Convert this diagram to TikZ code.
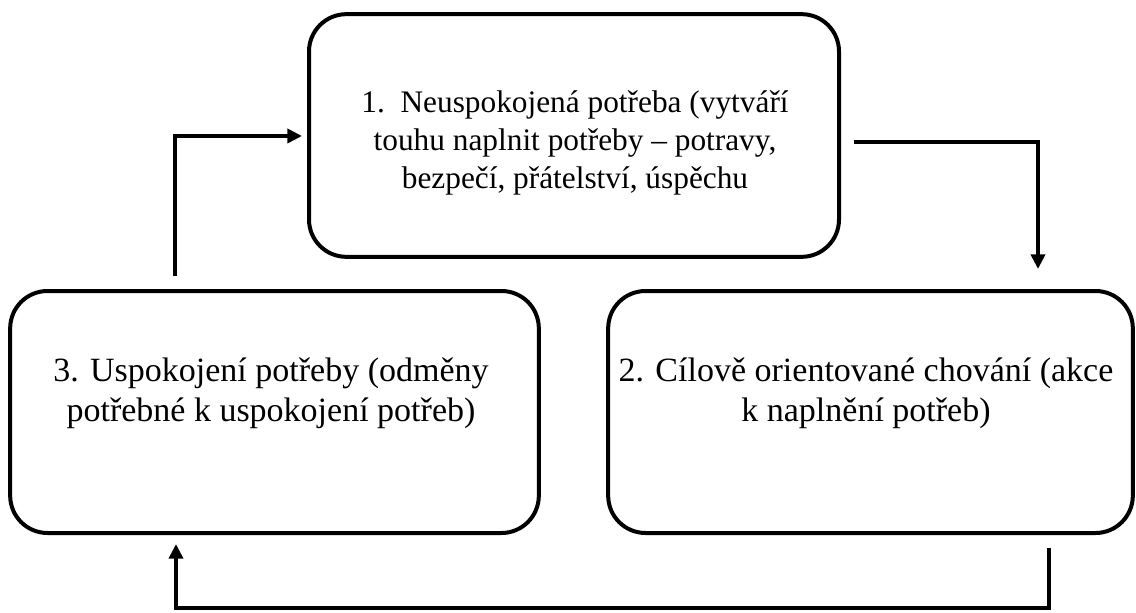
\documentclass[tikz,border=0pt]{standalone}
\usepackage{fontspec}
\setmainfont{Liberation Serif}
\usetikzlibrary{arrows.meta}

\tikzset{every picture/.style={line width=3pt}}
\tikzset{
  stagebox/.style={draw, rounded corners=28pt, minimum width=#1, minimum height=181.5pt, inner sep=0pt, outer sep=0pt},
  stagetext/.style={align=center, font=\fontsize{23.5}{28.5}\selectfont, inner sep=0pt},
  cycleline/.style={-{Triangle[width=10.5pt,length=11pt]}, line width=3pt}
}

\begin{document}
\begin{tikzpicture}[x=0.75pt,y=0.75pt,yscale=-1,xscale=1]
    \useasboundingbox (0,0) rectangle (1136,613);

    %Rounded Rect: stage 1
    \node [stagebox=397.5pt, minimum height=182pt] (need) at (574,135.5) {};
    %Rounded Rect: stage 3
    \node [stagebox=396.5pt] (reward) at (274.5,412) {};
    %Rounded Rect: stage 2
    \node [stagebox=393.5pt] (action) at (870.5,412) {};

    %Text nodes
    \node [stagetext] (needtext) at (575,143) {1.\ \ Neuspokojená potřeba (vytváří\\touhu naplnit potřeby – potravy,\\bezpečí, přátelství, úspěchu};
    \node [stagetext, font=\fontsize{25.5}{30}\selectfont] (rewardtext) at (271,393) {3. Uspokojení potřeby (odměny\\potřebné k uspokojení potřeb)};
    \node [stagetext, font=\fontsize{25.5}{30}\selectfont] (actiontext) at (866,393) {2. Cílově orientované chování (akce\\k naplnění potřeb)};

    %Free ends of the connectors
    \coordinate (needout) at (854,142);
    \coordinate (actionin) at (1038,269);
    \coordinate (actionout) at (1049,548);
    \coordinate (rewardin) at (176,544);
    \coordinate (rewardout) at (175,276);
    \coordinate (needin) at (302,136);

    %Straight Lines
    \draw [cycleline] (needout) -| (actionin);
    %Straight Lines
    \draw [cycleline] (actionout) -- (1049,608) -| (rewardin);
    %Straight Lines
    \draw [cycleline] (rewardout) |- (needin);

\end{tikzpicture}
\end{document}
